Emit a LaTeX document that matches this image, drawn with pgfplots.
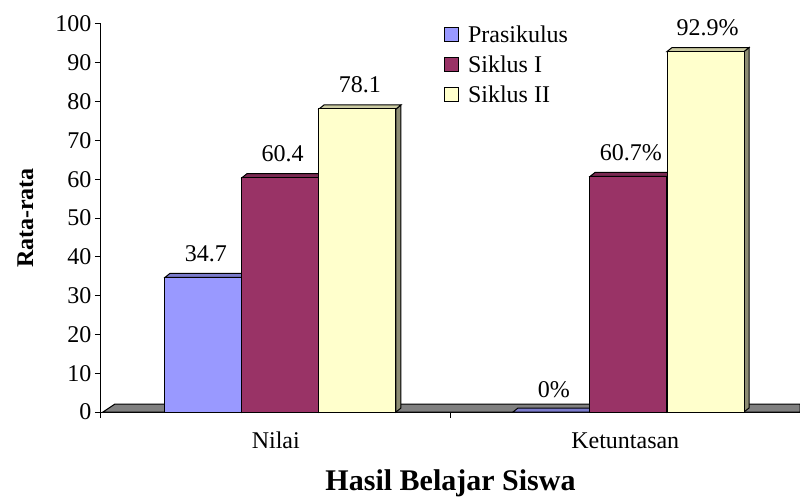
\documentclass[border=0pt]{standalone}
\usepackage{pgfplots}
\pgfplotsset{compat=1.18}
\usepackage{fontspec}
\setmainfont{Liberation Serif}
\definecolor{cA}{HTML}{9999FF}
\definecolor{cAt}{HTML}{7B7BCC}
\definecolor{cB}{HTML}{993366}
\definecolor{cBt}{HTML}{7A2952}
\definecolor{cC}{HTML}{FFFFCC}
\definecolor{cCt}{HTML}{CCCCA3}
\definecolor{cCs}{HTML}{8C8C73}
\definecolor{floorc}{HTML}{808080}
\newcommand{\tf}{\fontsize{24}{28}\selectfont}
% 3D bar: #1 left x, #2 value, #3 front, #4 top, #5 side
\newcommand{\tdbar}[5]{%
  \pgfmathsetmacro{\xa}{#1}%
  \pgfmathsetmacro{\xb}{#1+0.2203}%
  \pgfmathsetmacro{\xc}{#1+0.0143}%
  \pgfmathsetmacro{\xd}{#1+0.2203+0.0143}%
  \pgfmathsetmacro{\yt}{#2+1.03}%
  \addplot[forget plot, draw=black, line width=1pt, fill=#5] coordinates {(\xb,0) (\xd,1.03) (\xd,\yt) (\xb,#2)} --cycle;
  \addplot[forget plot, draw=black, line width=1pt, fill=#4] coordinates {(\xa,#2) (\xc,\yt) (\xd,\yt) (\xb,#2)} --cycle;
  \addplot[forget plot, draw=black, line width=1pt, fill=#3] coordinates {(\xa,0) (\xa,#2) (\xb,#2) (\xb,0)} --cycle;
}
\begin{document}
\begin{tikzpicture}
\useasboundingbox (0,0) rectangle (800pt,496pt);
\begin{axis}[
  at={(101pt,84pt)}, anchor=south west,
  width=699pt, height=388pt, scale only axis,
  xmin=0, xmax=2, ymin=0, ymax=100,
  enlargelimits=false, clip=false,
  axis lines*=left,
  axis line style={line width=1pt},
  ytick={0,10,...,100},
  xtick={0.5,1.5},
  xticklabels={Nilai,Ketuntasan},
  minor xtick={0,1,2},
  major x tick style={draw=none},
  tick align=outside,
  major tick length=6pt, minor tick length=6pt,
  tick style={line width=1pt, black},
  /pgf/number format/assume math mode=true,
  tick label style={font=\tf},
  xticklabel style={anchor=base, yshift=-30pt},
  ylabel={Rata-rata},
  ylabel style={font=\bfseries\fontsize{24}{28}\selectfont, at={(axis description cs:-0.108,0.5)}, anchor=center},
  xlabel={Hasil Belajar Siswa},
  xlabel style={font=\bfseries\fontsize{30}{34}\selectfont, at={(axis description cs:0.5,0)}, anchor=base, yshift=-78pt},
  legend style={at={(axis description cs:0.4907,0.9948)}, anchor=north west, draw=none, fill=none,
    inner sep=0pt, outer sep=0pt, row sep=14pt, column sep=9pt, font=\tf,
    nodes={inner sep=0pt, text height=16pt, text depth=0pt}},
  legend cell align=left,
  legend image code/.code={\draw[#1, line width=1pt] (0pt,-7pt) rectangle (14pt,7pt);},
]
% floor
\addplot[forget plot, draw=black, line width=1pt, fill=floorc] coordinates {(0.0057,0) (0.04,2.06) (2,2.06) (2,0)} --cycle;
% Nilai
\tdbar{0.1831}{34.7}{cA}{cAt}{cAt}
\tdbar{0.4034}{60.4}{cB}{cBt}{cBt}
\tdbar{0.6237}{78.1}{cC}{cCt}{cCs}
% Ketuntasan
\tdbar{1.1788}{0}{cA}{cAt}{cAt}
\tdbar{1.3991}{60.7}{cB}{cBt}{cBt}
\tdbar{1.6195}{92.9}{cC}{cCt}{cCs}
% labels
\addplot[forget plot, draw=none, nodes near coords, point meta=explicit symbolic,
  every node near coord/.style={anchor=base, font=\tf, inner sep=0pt}]
  coordinates {(0.300,38.8)[34.7] (0.520,64.5)[60.4] (0.741,82.4)[78.1]
               (1.296,3.8)[0\%] (1.516,64.8)[60.7\%] (1.736,97.0)[92.9\%]};
\addlegendimage{fill=cA, draw=black}
\addlegendentry{Prasikulus}
\addlegendimage{fill=cB, draw=black}
\addlegendentry{Siklus I}
\addlegendimage{fill=cC, draw=black}
\addlegendentry{Siklus II}
\end{axis}
\end{tikzpicture}
\end{document}
